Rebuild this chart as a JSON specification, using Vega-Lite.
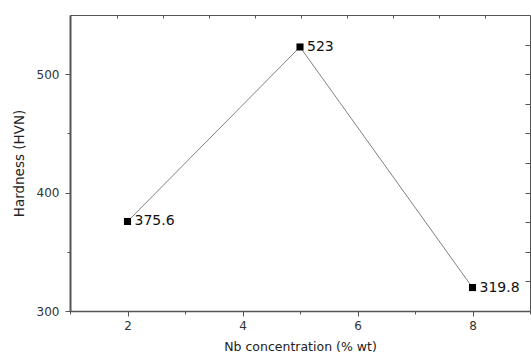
{
  "$schema": "https://vega.github.io/schema/vega-lite/v6.json",
  "width": 460,
  "height": 296,
  "autosize": {"type": "none"},
  "padding": {"left": 70, "top": 15, "right": 1, "bottom": 43},
  "config": {
    "view": {"stroke": "#555", "strokeWidth": 1},
    "font": "DejaVu Sans",
    "axis": {"domainColor": "#555", "tickColor": "#555", "labelColor": "#333", "titleColor": "#222", "labelFont": "DejaVu Sans", "titleFont": "DejaVu Sans", "grid": false}
  },
  "data": {"values": [
    {"nb": 2, "hardness": 375.6, "label": "375.6"},
    {"nb": 5, "hardness": 523, "label": "523"},
    {"nb": 8, "hardness": 319.8, "label": "319.8"}
  ]},
  "resolve": {"axis": {"x": "independent", "y": "independent"}},
  "layer": [
    {
      "mark": {"type": "line", "color": "#808080", "strokeWidth": 1},
      "encoding": {
        "x": {"field": "nb", "type": "quantitative", "scale": {"domain": [1, 9], "nice": false, "zero": false},
          "axis": {"orient": "bottom", "values": [2, 4, 6, 8], "tickSize": 5, "labelFontSize": 12, "labelPadding": 4, "title": "Nb concentration (% wt)", "titleFontSize": 12.5, "titleFontWeight": "normal", "titlePadding": 9, "domainWidth": 1.5}},
        "y": {"field": "hardness", "type": "quantitative", "scale": {"domain": [300, 550], "nice": false, "zero": false},
          "axis": {"orient": "left", "values": [300, 400, 500], "tickSize": 5, "labelFontSize": 12, "labelPadding": 6, "title": "Hardness (HVN)", "titleFontSize": 13.5, "titleFontWeight": "normal", "titlePadding": 10, "domainWidth": 2}}
      }
    },
    {
      "mark": {"type": "point", "shape": "square", "filled": true, "color": "#000", "size": 50, "opacity": 1},
      "encoding": {
        "x": {"field": "nb", "type": "quantitative",
          "axis": {"orient": "bottom", "values": [1, 3, 5, 7, 9], "tickSize": 3, "labels": false, "title": null, "domain": false}},
        "y": {"field": "hardness", "type": "quantitative",
          "axis": {"orient": "left", "values": [350, 450], "tickSize": 3, "labels": false, "title": null, "domain": false}}
      }
    },
    {
      "mark": {"type": "text", "align": "left", "baseline": "middle", "dx": 7, "fontSize": 14, "color": "#111", "font": "DejaVu Sans"},
      "encoding": {
        "x": {"field": "nb", "type": "quantitative",
          "axis": {"orient": "top", "values": [1.82, 2.62, 3.42, 4.22, 5.02, 5.82, 6.62, 7.42, 8.22], "tickSize": -3, "labels": false, "title": null, "domain": false}},
        "y": {"field": "hardness", "type": "quantitative",
          "axis": {"orient": "right", "values": [300, 325, 350, 375, 400, 425, 450, 475, 500, 525], "tickSize": -5, "labels": false, "title": null, "domain": false}},
        "text": {"field": "label"}
      }
    }
  ]
}
